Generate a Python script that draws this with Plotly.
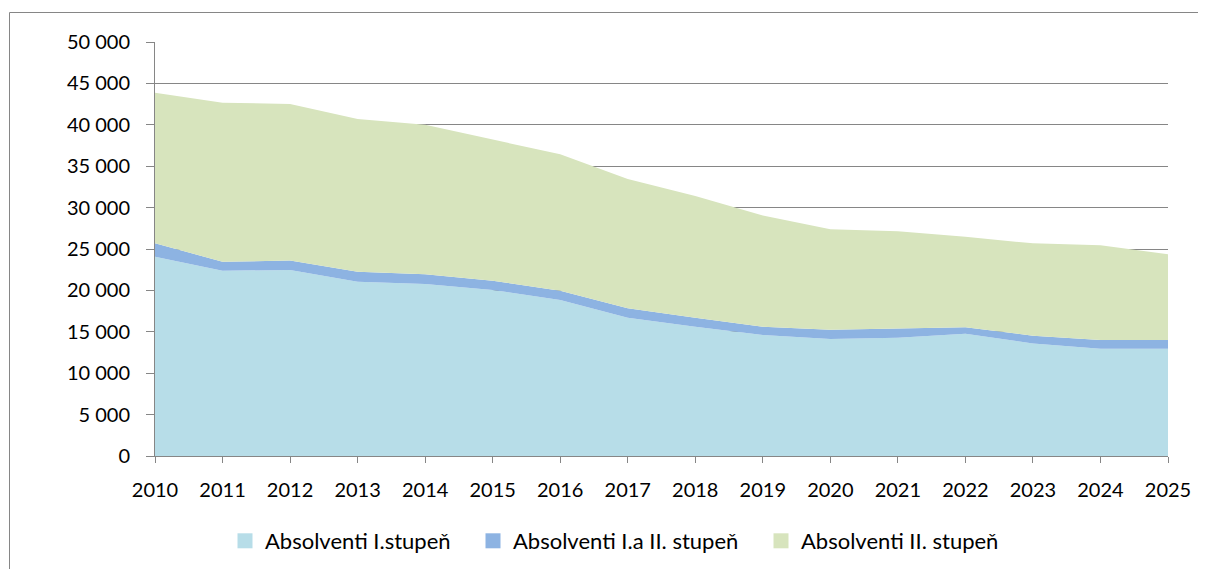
import plotly.graph_objects as go

years = list(range(2010, 2026))
absolventi_I = [24070, 22380, 22460, 21050, 20770, 20050, 18840, 16700, 15620, 14610, 14130, 14290, 14770, 13600, 12950, 12950]
absolventi_I_II = [1610, 1090, 1140, 1210, 1170, 1120, 1130, 1130, 1080, 1010, 1110, 1090, 770, 930, 1060, 1060]
absolventi_II = [18200, 19200, 18910, 18440, 18060, 17030, 16460, 15620, 14700, 13430, 12140, 11750, 10950, 11150, 11430, 10350]

names = ["Absolventi I.stupeň", "Absolventi I.a II. stupeň", "Absolventi II. stupeň"]
colors = ["#B7DDE8", "#8DB3E2", "#D7E4BD"]

ytickvals = list(range(0, 50001, 5000))
yticktext = ["0", "5 000", "10 000", "15 000", "20 000", "25 000", "30 000", "35 000", "40 000", "45 000", "50 000"]

legend_ids = ["legend", "legend2", "legend3"]

fig = go.Figure()
for name, vals, col in zip(names, [absolventi_I, absolventi_I_II, absolventi_II], colors):
    fig.add_trace(go.Scatter(
        x=years, y=vals, name=name, mode="lines",
        stackgroup="one", line=dict(width=0, color=col),
        fillcolor=col, hoverinfo="x+y+name", showlegend=False, legendgroup=name,
    ))
# legend entries with square swatches, each in its own legend box
for name, col, lid in zip(names, colors, legend_ids):
    fig.add_trace(go.Scatter(
        x=[None], y=[None], name=name, mode="markers", legendgroup=name, legend=lid,
        marker=dict(symbol="square", size=15, color=col), showlegend=True,
    ))

tick_font = dict(family="Lato, Open Sans, sans-serif", size=20, color="#000000")
legend_font = dict(family="Lato, Open Sans, sans-serif", size=22, color="#000000")

# 8px page offset compensated in margins so plot area is x 155..1168, y 42..456 on screen
L, T, PW, PH = 147, 34, 1013, 414
legend_common = dict(orientation="h", xanchor="left", y=(456 - 541) / PH, yanchor="middle",
                     font=legend_font, itemwidth=30, bgcolor="rgba(0,0,0,0)")
swatch_centers = [245, 493, 781]
legend_layouts = {}
for lid, sc in zip(legend_ids, swatch_centers):
    legend_layouts[lid] = dict(legend_common, x=(sc - 20 - 155) / PW)

fig.update_layout(
    width=1206, height=569,
    margin=dict(l=L, r=1206 - L - PW, t=T, b=569 - T - PH),
    paper_bgcolor="white", plot_bgcolor="white",
    font=tick_font,
    showlegend=True,
    xaxis=dict(range=[2010, 2025], tickvals=years, ticktext=[str(y) for y in years],
               showgrid=False, zeroline=False, showline=True, linecolor="#868686", linewidth=1,
               ticks="outside", ticklen=6, tickcolor="#868686", tickfont=tick_font,
               ticklabelstandoff=10),
    yaxis=dict(range=[0, 50000], tickvals=ytickvals, ticktext=yticktext,
               showgrid=True, gridcolor="#868686", gridwidth=1, zeroline=False,
               showline=True, linecolor="#868686", linewidth=1,
               ticks="outside", ticklen=8, tickcolor="#868686", tickfont=tick_font,
               ticklabelstandoff=12),
    shapes=[dict(type="rect", xref="paper", yref="paper",
                 x0=(9.5 - 155) / PW, x1=(1215 - 155) / PW,
                 y0=(456 - 580) / PH, y1=(456 - 12.5) / PH,
                 line=dict(color="#868686", width=1), fillcolor="rgba(0,0,0,0)", layer="below")],
    **legend_layouts,
)

fig.write_html("out.html")
